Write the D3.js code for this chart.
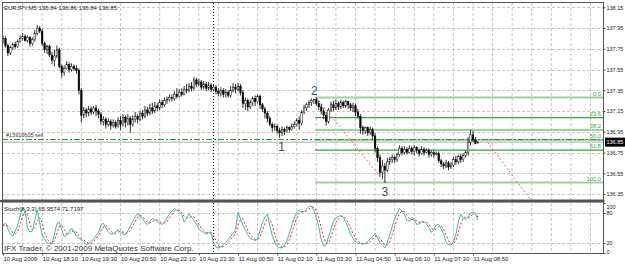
<!DOCTYPE html>
<html>
<head>
<meta charset="utf-8">
<script src="https://cdn.jsdelivr.net/npm/d3@7"></script>
<style>
body { margin: 0; background: #fff; }
svg text { font-family: "Liberation Sans", Arial, sans-serif; }
</style>
</head>
<body>
<script>
// EURJPY M5 bars (bar 0 = 10 Aug 16:50)
var opens = [137.82,137.85,137.78,137.71,137.76,137.79,137.77,137.82,137.85,137.87,
  137.83,137.86,137.80,137.84,137.90,137.95,137.92,137.80,137.74,137.77,
  137.69,137.64,137.68,137.74,137.58,137.52,137.56,137.60,137.55,137.58,
  137.56,137.54,137.35,137.11,137.16,137.13,137.17,137.14,137.18,137.15,
  137.12,137.05,137.07,137.02,137.05,137.01,137.04,137.00,137.06,137.02,
  137.09,137.04,137.08,137.02,137.07,137.10,137.07,137.13,137.10,137.16,
  137.13,137.18,137.15,137.20,137.18,137.23,137.21,137.25,137.26,137.28,
  137.27,137.31,137.29,137.33,137.31,137.36,137.35,137.39,137.37,137.45,
  137.41,137.43,137.38,137.41,137.37,137.40,137.36,137.38,137.34,137.32,
  137.35,137.31,137.33,137.30,137.35,137.38,137.36,137.39,137.33,137.22,
  137.25,137.19,137.23,137.27,137.24,137.29,137.21,137.17,137.13,137.08,
  137.02,136.99,137.00,136.96,136.94,136.97,136.95,136.99,136.97,137.00,
  137.02,137.06,137.03,137.14,137.18,137.21,137.23,137.25,137.26,137.22,
  137.19,137.15,137.11,137.05,137.16,137.21,137.18,137.22,137.19,137.23,
  137.20,137.24,137.21,137.18,137.20,137.14,137.10,136.99,136.96,136.99,
  136.94,136.97,136.91,136.79,136.70,136.56,136.62,136.58,136.66,136.68,
  136.70,136.68,136.73,136.79,136.75,136.78,136.75,136.79,136.76,136.80,
  136.77,136.74,136.78,136.75,136.77,136.73,136.75,136.73,136.74,136.67,
  136.64,136.62,136.65,136.61,136.63,136.68,136.66,136.71,136.68,136.72,
  136.75,136.85,136.92,136.87,136.84];
var highs = [137.88,137.87,137.80,137.78,137.81,137.82,137.84,137.88,137.90,137.89,
  137.88,137.87,137.86,137.93,137.98,137.97,137.94,137.82,137.79,137.79,
  137.72,137.74,137.78,137.76,137.60,137.59,137.63,137.62,137.61,137.60,
  137.59,137.56,137.37,137.19,137.18,137.20,137.19,137.20,137.21,137.17,
  137.14,137.10,137.09,137.08,137.07,137.07,137.06,137.09,137.10,137.12,
  137.11,137.12,137.10,137.11,137.14,137.12,137.15,137.16,137.20,137.19,
  137.22,137.23,137.24,137.23,137.26,137.26,137.28,137.29,137.31,137.31,
  137.34,137.37,137.36,137.37,137.39,137.41,137.42,137.43,137.48,137.47,
  137.46,137.45,137.44,137.43,137.43,137.42,137.41,137.40,137.37,137.38,
  137.37,137.36,137.35,137.39,137.42,137.41,137.42,137.41,137.35,137.28,
  137.27,137.26,137.29,137.30,137.31,137.31,137.23,137.19,137.15,137.10,
  137.04,137.03,137.02,136.99,137.00,136.99,137.01,137.00,137.03,137.05,
  137.08,137.10,137.16,137.21,137.23,137.25,137.27,137.27,137.28,137.25,
  137.22,137.18,137.14,137.18,137.24,137.25,137.26,137.24,137.26,137.25,
  137.26,137.25,137.23,137.23,137.22,137.17,137.12,137.01,137.00,137.00,
  137.00,136.99,136.94,136.81,136.73,136.68,136.65,136.70,136.71,136.73,
  136.72,136.75,136.82,136.81,136.81,136.80,136.82,136.81,136.82,136.81,
  136.79,136.81,136.80,136.79,136.79,136.77,136.77,136.76,136.76,136.69,
  136.66,136.68,136.67,136.66,136.71,136.72,136.73,136.74,136.74,136.77,
  136.90,136.97,136.96,136.90,136.86];
var lows = [137.80,137.76,137.68,137.69,137.74,137.75,137.76,137.81,137.83,137.82,
  137.81,137.77,137.78,137.82,137.88,137.90,137.78,137.71,137.70,137.67,
  137.60,137.58,137.66,137.56,137.47,137.49,137.55,137.52,137.53,137.54,
  137.51,137.31,137.04,137.08,137.09,137.10,137.11,137.12,137.10,137.08,
  137.02,137.01,136.98,137.00,136.97,136.99,136.98,136.99,136.97,137.00,
  136.99,137.01,136.94,137.00,137.04,137.03,137.05,137.07,137.08,137.10,
  137.11,137.12,137.13,137.15,137.16,137.18,137.19,137.22,137.24,137.24,
  137.25,137.27,137.28,137.29,137.30,137.32,137.33,137.34,137.35,137.38,
  137.39,137.35,137.36,137.34,137.35,137.33,137.34,137.31,137.29,137.29,
  137.28,137.28,137.28,137.28,137.33,137.32,137.34,137.30,137.18,137.16,
  137.15,137.17,137.20,137.20,137.22,137.17,137.14,137.08,137.04,137.00,
  136.95,136.96,136.93,136.89,136.91,136.92,136.94,136.95,136.96,136.98,
  137.00,136.97,137.01,137.12,137.15,137.18,137.20,137.22,137.20,137.16,
  137.12,137.07,137.01,137.03,137.14,137.15,137.16,137.16,137.17,137.18,
  137.18,137.17,137.15,137.14,137.10,137.08,136.93,136.92,136.93,136.91,
  136.92,136.87,136.75,136.66,136.52,136.50,136.46,136.56,136.63,136.65,
  136.65,136.66,136.71,136.72,136.73,136.73,136.74,136.73,136.72,136.74,
  136.71,136.73,136.72,136.74,136.70,136.71,136.70,136.72,136.65,136.61,
  136.59,136.60,136.58,136.59,136.61,136.63,136.64,136.65,136.66,136.70,
  136.72,136.82,136.85,136.83,136.84];
var closes = [137.85,137.78,137.71,137.76,137.79,137.77,137.82,137.85,137.87,137.83,
  137.86,137.80,137.84,137.90,137.95,137.92,137.80,137.74,137.77,137.69,
  137.64,137.68,137.74,137.58,137.52,137.56,137.60,137.55,137.58,137.56,
  137.54,137.35,137.11,137.16,137.13,137.17,137.14,137.18,137.15,137.12,
  137.05,137.07,137.02,137.05,137.01,137.04,137.00,137.06,137.02,137.09,
  137.04,137.08,137.02,137.07,137.10,137.07,137.13,137.10,137.16,137.13,
  137.18,137.15,137.20,137.18,137.23,137.21,137.25,137.26,137.28,137.27,
  137.31,137.29,137.33,137.31,137.36,137.35,137.39,137.37,137.45,137.41,
  137.43,137.38,137.41,137.37,137.40,137.36,137.38,137.34,137.32,137.35,
  137.31,137.33,137.30,137.35,137.38,137.36,137.39,137.33,137.22,137.25,
  137.19,137.23,137.27,137.24,137.29,137.21,137.17,137.13,137.08,137.02,
  136.99,137.00,136.96,136.94,136.97,136.95,136.99,136.97,137.00,137.02,
  137.06,137.03,137.14,137.18,137.21,137.23,137.25,137.26,137.22,137.19,
  137.15,137.11,137.05,137.16,137.21,137.18,137.22,137.19,137.23,137.20,
  137.24,137.21,137.18,137.20,137.14,137.10,136.99,136.96,136.99,136.94,
  136.97,136.91,136.79,136.70,136.56,136.62,136.58,136.66,136.68,136.70,
  136.68,136.73,136.79,136.75,136.78,136.75,136.79,136.76,136.80,136.77,
  136.74,136.78,136.75,136.77,136.73,136.75,136.73,136.74,136.67,136.64,
  136.62,136.65,136.61,136.63,136.68,136.66,136.71,136.68,136.72,136.75,
  136.85,136.92,136.87,136.84,136.85];

// Stochastic(8,3,3): main (%K) and signal (%D)
var stochMain = [55,60,48,38,34,44,55,75,90,85,50,42,44,66,86,60,36,28,20,19,
  18,38,58,62,46,33,35,42,50,42,34,30,27,22,17,18,23,28,35,42,
  55,60,50,43,38,38,42,46,42,38,37,44,54,63,73,79,73,68,61,57,
  63,69,67,63,60,57,62,70,78,84,89,86,81,77,62,70,78,72,65,58,
  49,44,41,38,40,42,20,12,11,12,16,21,27,33,40,47,82,68,56,46,
  37,29,27,25,28,45,61,72,78,55,35,22,13,11,10,16,24,40,57,70,
  82,85,81,83,88,93,94,85,72,52,26,14,16,33,48,63,71,73,75,72,
  61,51,38,29,23,19,19,18,19,23,28,33,39,30,21,15,10,22,36,53,
  69,80,89,84,77,65,64,71,67,57,58,64,63,58,51,41,47,56,57,48,
  38,22,16,16,22,37,62,78,70,67,72,80,82,78,65.9574];
var stochSignal = [55,57,54,49,40,39,44,58,73,83,75,59,45,51,65,71,61,41,28,22,
  19,25,38,53,55,47,38,37,42,45,42,35,30,26,22,19,19,23,29,35,
  44,52,55,51,44,40,39,42,43,42,39,40,45,54,63,72,75,73,67,62,
  60,63,66,66,63,60,60,63,70,77,84,86,85,81,73,70,70,73,72,65,
  57,50,45,41,40,40,34,25,14,12,13,16,21,27,33,40,56,66,69,57,
  46,37,31,27,27,33,45,59,70,68,56,37,23,15,11,12,17,27,40,56,
  70,79,83,83,84,88,92,91,84,70,50,31,19,21,32,48,61,69,73,73,
  69,61,50,39,30,24,20,19,19,20,23,28,33,34,30,22,15,16,23,37,
  53,67,79,84,83,75,69,67,67,65,61,60,62,62,57,50,46,48,53,54,
  48,36,25,18,18,25,40,59,70,72,70,73,78,80,71.7197];

var priceTicks = [138.15, 137.95, 137.75, 137.55, 137.35, 137.15, 136.95, 136.75, 136.55, 136.35];
var timeBars = [0, 16, 32, 48, 64, 80, 96, 112, 128, 144, 160, 176, 192];
var timeLabels = ["10 Aug 2009", "10 Aug 18:10", "10 Aug 19:30", "10 Aug 20:50", "10 Aug 22:10",
  "10 Aug 23:30", "11 Aug 00:50", "11 Aug 02:10", "11 Aug 03:30", "11 Aug 04:50",
  "11 Aug 06:10", "11 Aug 07:30", "11 Aug 08:50"];
var dayBreakBar = 86;

var fibLevels = [0, 23.6, 38.2, 50, 61.8, 100];
var fibHigh = 137.28, fibLow = 136.46, fibStartBar = 127.5;
var waveLabels = ["1", "2", "3"];
var waveBars = [113.8, 127.2, 156];
var wavePrices = [136.89, 137.28, 136.46];
var trendFrom = [[128, 137.28], [197, 136.88]];
var trendTo = [[156, 136.46], [215.3, 136.30]];
var sellPrice = 136.875, bidPrice = 136.85;

var svg = d3.select("body").append("svg")
    .attr("width", 625)
    .attr("height", 265);

var x = d3.scaleLinear().domain([0, 192]).range([3, 473]);
var y = d3.scaleLinear().domain([136.35, 138.15]).range([194, 7.3]);
var ys = d3.scaleLinear().domain([0, 100]).range([253, 203]);

var L = 2, R = 603.5;

svg.append("defs").append("clipPath").attr("id", "mainClip")
    .append("rect").attr("x", L).attr("y", 2.5).attr("width", R - L).attr("height", 197.5);
svg.append("defs").append("clipPath").attr("id", "stochClip")
    .append("rect").attr("x", L).attr("y", 202).attr("width", R - L).attr("height", 51);

// grid
var gridBars = d3.range(8, 246, 8).filter(function(b) { return x(b) < R; });
var grid = svg.append("g")
    .attr("stroke", "#c6c6c6")
    .attr("stroke-dasharray", "3,2")
    .attr("stroke-width", 1);
grid.selectAll(".vm").data(gridBars).enter().append("line")
    .attr("x1", function(d) { return x(d); }).attr("x2", function(d) { return x(d); })
    .attr("y1", 3).attr("y2", 200);
grid.selectAll(".vs").data(gridBars).enter().append("line")
    .attr("x1", function(d) { return x(d); }).attr("x2", function(d) { return x(d); })
    .attr("y1", 203).attr("y2", 253);
grid.selectAll(".hm").data(priceTicks).enter().append("line")
    .attr("x1", L).attr("x2", R)
    .attr("y1", function(d) { return Math.round(y(d)) + 0.5; })
    .attr("y2", function(d) { return Math.round(y(d)) + 0.5; });
grid.selectAll(".hs").data([80, 20]).enter().append("line")
    .attr("x1", L).attr("x2", R)
    .attr("y1", function(d) { return Math.round(ys(d)) + 0.5; })
    .attr("y2", function(d) { return Math.round(ys(d)) + 0.5; });

// day separator
[[3, 200], [203, 253]].forEach(function(r) {
  svg.append("line")
    .attr("x1", x(dayBreakBar)).attr("x2", x(dayBreakBar))
    .attr("y1", r[0]).attr("y2", r[1])
    .attr("stroke", "#000").attr("stroke-dasharray", "1,2");
});

var main = svg.append("g").attr("clip-path", "url(#mainClip)");

// bid line
main.append("line")
    .attr("x1", L).attr("x2", R).attr("y1", y(bidPrice)).attr("y2", y(bidPrice))
    .attr("stroke", "#c8c8c8").attr("stroke-width", 1.5);

// fibonacci levels
var fibY = function(lv) { return y(fibHigh - (fibHigh - fibLow) * lv / 100); };
main.selectAll(".fib").data(fibLevels).enter().append("line")
    .attr("x1", x(fibStartBar)).attr("x2", R)
    .attr("y1", function(d) { return fibY(d); })
    .attr("y2", function(d) { return fibY(d); })
    .attr("stroke", function(d, i) { return (i === 1 || i === 4) ? "#3f9f3f" : "#9fd09f"; })
    .attr("stroke-width", function(d, i) { return (i === 1 || i === 4) ? 1.2 : 2; });

// sell order line
main.append("line")
    .attr("x1", L).attr("x2", R).attr("y1", y(sellPrice)).attr("y2", y(sellPrice))
    .attr("stroke", "#2f962f").attr("stroke-width", 1)
    .attr("stroke-dasharray", "6,2,2,2");

// trend lines
main.selectAll(".trend").data(trendFrom).enter().append("line")
    .attr("x1", function(d) { return x(d[0]); })
    .attr("y1", function(d) { return y(d[1]); })
    .attr("x2", function(d, i) { return x(trendTo[i][0]); })
    .attr("y2", function(d, i) { return y(trendTo[i][1]); })
    .attr("stroke", "#f06060").attr("stroke-width", 1)
    .attr("stroke-dasharray", "2,2");

// candles
var idx = d3.range(closes.length);
main.selectAll(".wick").data(idx).enter().append("line")
    .attr("x1", function(i) { return x(i); }).attr("x2", function(i) { return x(i); })
    .attr("y1", function(i) { return y(highs[i]); })
    .attr("y2", function(i) { return y(lows[i]); })
    .attr("stroke", "#1a1a1a").attr("stroke-width", 0.9);
main.selectAll(".body").data(idx).enter().append("rect")
    .attr("x", function(i) { return x(i) - 0.8; })
    .attr("width", 1.6)
    .attr("y", function(i) { return y(Math.max(opens[i], closes[i])); })
    .attr("height", function(i) { return Math.max(0.6, Math.abs(y(opens[i]) - y(closes[i]))); })
    .attr("fill", function(i) { return closes[i] > opens[i] ? "#fff" : "#000"; })
    .attr("stroke", "#000").attr("stroke-width", 0.45);

// wave labels
main.selectAll(".wave").data(waveLabels).enter().append("text")
    .attr("x", function(d, i) { return x(waveBars[i]); })
    .attr("y", function(d, i) { return i === 1 ? y(wavePrices[i]) - 3 : y(wavePrices[i]) + 13; })
    .attr("text-anchor", "middle")
    .attr("font-size", 12)
    .attr("fill", "#3b5572")
    .text(function(d) { return d; });

// fib labels
svg.selectAll(".fibt").data(fibLevels).enter().append("text")
    .attr("x", 601)
    .attr("y", function(d) { return fibY(d) - 2; })
    .attr("text-anchor", "end")
    .attr("font-size", 5.8)
    .attr("fill", "#3f9f3f")
    .text(function(d) { return d.toFixed(1); });

svg.append("text").attr("x", 6).attr("y", y(sellPrice) - 2.5)
    .attr("font-size", 5.5).attr("fill", "#333")
    .text("#13910605 sell");

// stochastic
var stoch = svg.append("g").attr("clip-path", "url(#stochClip)");
var stochLine = d3.line()
    .x(function(d, i) { return x(i); })
    .y(function(d) { return ys(d); });
stoch.append("path").datum(stochSignal)
    .attr("d", stochLine).attr("fill", "none")
    .attr("stroke", "#ff2020").attr("stroke-width", 1).attr("stroke-dasharray", "2,2");
stoch.append("path").datum(stochMain)
    .attr("d", stochLine).attr("fill", "none")
    .attr("stroke", "#3cb8b0").attr("stroke-width", 1);

// frames
svg.append("rect").attr("x", L + 0.5).attr("y", 2.5).attr("width", R - L - 0.5).attr("height", 197.5)
    .attr("fill", "none").attr("stroke", "#555");
svg.append("rect").attr("x", 0).attr("y", 200).attr("width", R + 1).attr("height", 2.2).attr("fill", "#555");
svg.append("rect").attr("x", L + 0.5).attr("y", 202).attr("width", R - L - 0.5).attr("height", 51.5)
    .attr("fill", "none").attr("stroke", "#555");

// price axis
var yAxis = d3.axisRight(y).tickValues(priceTicks).tickFormat(d3.format(".2f")).tickSize(2);
svg.append("g").attr("transform", "translate(" + R + ",0)").call(yAxis)
    .call(function(g) { g.select(".domain").remove(); })
    .call(function(g) { g.selectAll("line").attr("stroke", "#555"); })
    .call(function(g) {
      g.selectAll("text").attr("x", 3).attr("font-size", 5.5).attr("fill", "#222")
        .style("font-family", "Liberation Sans, Arial, sans-serif");
    });

// current price box
svg.append("rect").attr("x", R + 1.5).attr("y", y(bidPrice) - 4.5).attr("width", 20).attr("height", 9).attr("fill", "#000");
svg.append("text").attr("x", R + 3).attr("y", y(bidPrice) + 2)
    .attr("font-size", 5.5).attr("fill", "#fff").text(bidPrice.toFixed(2));

// stochastic axis
var sAxis = d3.axisRight(ys).tickValues([100, 80, 20, 0]).tickSize(2);
svg.append("g").attr("transform", "translate(" + R + ",0)").call(sAxis)
    .call(function(g) { g.select(".domain").remove(); })
    .call(function(g) { g.selectAll("line").attr("stroke", "#555"); })
    .call(function(g) {
      g.selectAll("text").attr("x", 3).attr("font-size", 5.5).attr("fill", "#222")
        .attr("dy", function(d) { return d === 100 ? "0.95em" : d === 0 ? "0" : "0.32em"; })
        .style("font-family", "Liberation Sans, Arial, sans-serif");
    });

// time axis
var xAxis = d3.axisBottom(x).tickValues(timeBars)
    .tickFormat(function(d, i) { return timeLabels[i]; }).tickSize(2);
svg.append("g").attr("transform", "translate(0,253.5)").call(xAxis)
    .call(function(g) { g.select(".domain").remove(); })
    .call(function(g) { g.selectAll("line").attr("stroke", "#555"); })
    .call(function(g) {
      g.selectAll("text").attr("y", 3).attr("text-anchor", "start").attr("font-size", 6).attr("fill", "#222")
        .style("font-family", "Liberation Sans, Arial, sans-serif");
    });

// captions
svg.append("text").attr("x", 4).attr("y", 10).attr("font-size", 6).attr("fill", "#222")
    .text("EURJPY,M5  136.84 136.86 136.84 136.85");
svg.append("text").attr("x", 4).attr("y", 210.5).attr("font-size", 6).attr("fill", "#222")
    .text("Stoch(8,3,3) 65.9574 71.7197");
svg.append("text").attr("x", 4).attr("y", 251).attr("font-size", 8).attr("fill", "#333")
    .text("IFX Trader, \u00a9 2001-2009 MetaQuotes Software Corp.");
</script>
</body>
</html>
